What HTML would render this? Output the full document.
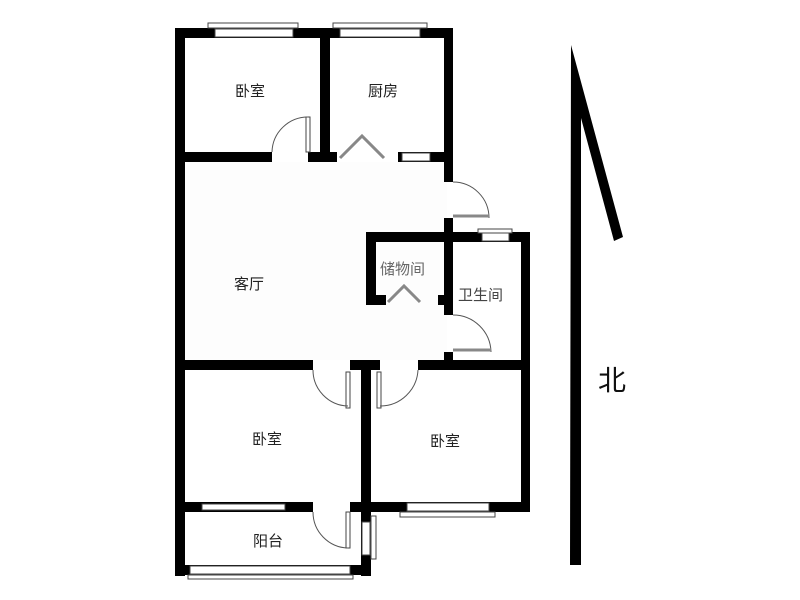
<!DOCTYPE html>
<html><head><meta charset="utf-8"><style>
html,body{margin:0;padding:0;background:#fff;width:800px;height:600px;overflow:hidden}
text{font-family:"Liberation Sans","Noto Sans CJK SC",sans-serif;font-size:15px;fill:#222}
</style></head><body>
<svg width="800" height="600" viewBox="0 0 800 600" xmlns="http://www.w3.org/2000/svg">
<rect x="185" y="162" width="262" height="198" fill="#fdfdfd"/>
<g fill="#000">
<rect x="175" y="28" width="10" height="548"/>
<rect x="175" y="28" width="278" height="10"/>
<rect x="320" y="28" width="10" height="134"/>
<rect x="444" y="28" width="9" height="154"/>
<rect x="175" y="152" width="97" height="10"/>
<rect x="308" y="152" width="29" height="10"/>
<rect x="398" y="152" width="55" height="10"/>
<rect x="444" y="218" width="9" height="97"/>
<rect x="444" y="352" width="9" height="10"/>
<rect x="366" y="232" width="164" height="10"/>
<rect x="366" y="232" width="10" height="73"/>
<rect x="366" y="295" width="20" height="10"/>
<rect x="438" y="295" width="14" height="10"/>
<rect x="521" y="232" width="9" height="280"/>
<rect x="175" y="360" width="138" height="10"/>
<rect x="350" y="360" width="30" height="10"/>
<rect x="418" y="360" width="112" height="10"/>
<rect x="361" y="360" width="10" height="155"/>
<rect x="361" y="502" width="169" height="10"/>
<rect x="175" y="502" width="138" height="10"/>
<rect x="350" y="502" width="21" height="10"/>
<rect x="361" y="512" width="10" height="64"/>
<rect x="175" y="565" width="196" height="10"/>
<polygon points="571,45 623,237 614,241 581,118 581,565 570,565"/>
</g>
<g fill="#fff" stroke="#444" stroke-width="1">
<rect x="208" y="23" width="90" height="5"/>
<rect x="215" y="29" width="78" height="8"/>
<rect x="333" y="23" width="94" height="5"/>
<rect x="340" y="29" width="80" height="8"/>
<rect x="402" y="153" width="28" height="8"/>
<rect x="478" y="229" width="34" height="4"/>
<rect x="482" y="233" width="27" height="8"/>
<rect x="202" y="504" width="83" height="6"/>
<rect x="400" y="512" width="95" height="5"/>
<rect x="407" y="503" width="82" height="8"/>
<rect x="190" y="566" width="160" height="8"/>
<rect x="188" y="575" width="165" height="4"/>
<rect x="362" y="522" width="8" height="33"/>
<rect x="371" y="516" width="5" height="43"/>
<rect x="306" y="117" width="4" height="35"/>
<rect x="346" y="372" width="4" height="36"/>
<rect x="377" y="372" width="4" height="36"/>
<rect x="346" y="512" width="4" height="36"/>
</g>
<g fill="none" stroke="#555" stroke-width="1">
<path d="M272 152 A36 36 0 0 1 308 117"/>
<path d="M313 370 A36 36 0 0 0 348 406"/>
<path d="M418 370 A38 38 0 0 1 380 406"/>
<path d="M313 512 A36 36 0 0 0 348 548"/>
<path d="M453 182 A36 36 0 0 1 489 218"/>
<path d="M453 315 A38 38 0 0 1 491 352"/>
</g>
<g fill="none" stroke="#888" stroke-width="3">
<path d="M340 158 L362 136 L384 158"/>
<path d="M388 302 L404 286 L420 302"/>
<path d="M453 216 L489 216"/>
<path d="M453 350 L491 350"/>
</g>
<text x="235" y="96">卧室</text>
<text x="368" y="96">厨房</text>
<text x="234" y="289">客厅</text>
<text x="380" y="274" style="fill:#666">储物间</text>
<text x="458" y="300" style="fill:#444">卫生间</text>
<text x="252" y="444">卧室</text>
<text x="430" y="446">卧室</text>
<text x="253" y="546">阳台</text>
<text x="598" y="390" style="font-size:28px;fill:#111">北</text>
</svg>
</body></html>
